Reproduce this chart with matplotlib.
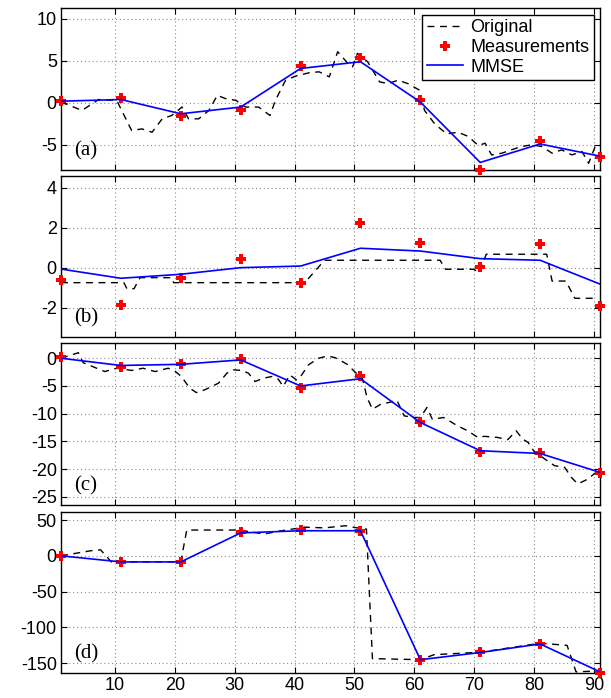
import matplotlib
matplotlib.use("Agg")
import matplotlib.pyplot as plt
import numpy as np

plt.rcParams['font.family'] = ['Liberation Sans', 'DejaVu Sans']
plt.rcParams['axes.unicode_minus'] = False

# ---------------- data ----------------
meas_x = [1, 11, 21, 31, 41, 51, 61, 71, 81, 91]
xticks = [10, 20, 30, 40, 50, 60, 70, 80, 90]

# panel (a)
orig_x_a = [1, 4.5, 7.3, 10.3, 12.8, 14.5, 16.2, 17.9, 19.5, 21.2, 22.3, 24, 25.7, 27.1, 28.5,
            30.2, 31.8, 34, 35.9, 36.8, 38.5, 40.2, 42.5, 44.1, 45.8, 47.2, 48.9, 49.7, 50.5,
            52.2, 54.2, 55.6, 57.3, 58.9, 60.9, 61.7, 63.4, 65.4, 67.3, 69, 70.7, 71.8, 72.9,
            74.6, 76.2, 77.9, 79.6, 81.3, 83, 84.6, 86.3, 88, 89.1, 90.2, 91]
orig_y_a = [0.1, -0.9, 0.4, 0.3, -3.3, -3.1, -3.5, -1.9, -1.5, -0.5, -1.9, -1.9, -0.9, 0.9, 0.5,
            0.3, -0.5, -0.5, -1.5, 0.3, 2.7, 3.2, 3.6, 3.7, 3.1, 6.1, 4.7, 4.3, 5.9,
            4.9, 2.5, 2.3, 2.7, 2.3, 1.5, -0.9, -2.5, -3.7, -3.5, -4.0, -5.1, -4.8, -6.2,
            -6.0, -5.6, -5.2, -5.0, -5.2, -6.0, -5.6, -6.2, -5.8, -7.2, -5.2, -5.0]
meas_a = [0.2, 0.6, -1.6, -0.8, 4.4, 5.4, 0.4, -8.0, -4.5, -6.5]
mmse_a = [0.2, 0.4, -1.3, -0.5, 4.1, 4.9, 0.1, -7.1, -4.9, -6.35]

# panel (b)
orig_x_b = [1, 11.5, 12.0, 13.2, 14.2, 14.8, 19.5, 19.8, 41.7, 45, 64.3, 65.2, 69.9, 70.9, 72,
            82.1, 83, 85.3, 86.8, 90.4]
orig_y_b = [-0.75, -0.75, -1.05, -1.05, -0.5, -0.5, -0.5, -0.75, -0.75, 0.37, 0.37, -0.08, -0.08,
            -0.25, 0.67, 0.67, -0.67, -0.67, -1.53, -1.53]
meas_b = [-0.6, -1.85, -0.5, 0.45, -0.75, 2.22, 1.25, 0.05, 1.2, -1.9]
mmse_b = [-0.07, -0.53, -0.33, 0.0, 0.08, 0.97, 0.83, 0.45, 0.37, -0.82]

# panel (c)
orig_x_c = [1, 3.9, 4.7, 8.3, 10.3, 12.8, 14.7, 16.7, 18.9, 20, 21.1, 22.5, 23.6, 25, 27.3, 28.7,
            29.8, 31.2, 32.3, 33.4, 34.8, 36.2, 37.3, 38.1, 39.2, 40.3, 41.2, 42.3, 44, 45.5,
            46.8, 48.8, 50.2, 51.3, 52.1, 53, 54.4, 55.7, 57.1, 58.3, 59.9, 61, 62.1, 63, 64.9,
            67.2, 68.9, 70.6, 71.7, 73.9, 75.6, 77, 78.1, 79, 80.1, 81.4, 83.4, 85.1, 86.2,
            87.3, 89, 90.1, 91]
orig_y_c = [0, 1.0, -0.8, -2.4, -1.8, -2.2, -1.8, -2.4, -1.8, -2.3, -3.3, -5.4, -6.2, -5.7, -4.5,
            -2.7, -2.1, -2.2, -2.7, -4.2, -3.6, -3.3, -3.8, -5.1, -3.0, -3.9, -3.0, -1.2, 0.0,
            0.4, 0.1, -1.1, -2.6, -3.5, -7.1, -9.2, -8.3, -8.0, -7.6, -10.4, -10.7, -10.7, -8.9,
            -11.0, -10.7, -12.2, -13.1, -14.3, -14.1, -14.3, -14.7, -13.1, -14.6, -15.2, -17.0,
            -17.9, -19.4, -19.7, -21.5, -22.7, -21.8, -20.8, -20.5]
meas_c = [0.2, -1.5, -1.0, -0.1, -5.4, -3.2, -11.5, -16.9, -17.1, -20.8]
mmse_c = [0.0, -1.3, -1.1, -0.3, -5.0, -3.7, -11.6, -16.7, -17.2, -20.6]

# panel (d)
orig_x_d = [1, 5.9, 7.6, 9.4, 21, 22, 30.7, 34.9, 37.8, 41.7, 45, 48.5, 51.5, 52, 53, 61, 63.3,
            71, 81, 85.5, 87, 90, 91]
orig_y_d = [0, 7, 8.4, -8.4, -8.4, 36, 36, 30.4, 35, 40, 39, 42, 37.4, 37.4, -143.5, -145, -138,
            -134.6, -122, -125, -162, -161, -164]
meas_d = [0, -8.4, -8.4, 32.7, 35.5, 35, -145, -134, -123, -164]
mmse_d = [0, -8.5, -8.5, 32, 35, 35, -145, -135, -123, -162]

panels = [
    ("(a)", orig_x_a, orig_y_a, meas_a, mmse_a, (-8, 11.27), [-5, 0, 5, 10]),
    ("(b)", orig_x_b, orig_y_b, meas_b, mmse_b, (-3.45, 4.58), [-2, 0, 2, 4]),
    ("(c)", orig_x_c, orig_y_c, meas_c, mmse_c, (-26.5, 2.7), [-25, -20, -15, -10, -5, 0]),
    ("(d)", orig_x_d, orig_y_d, meas_d, mmse_d, (-164, 61.6), [-150, -100, -50, 0, 50]),
]

# ---------------- layout ----------------
W, H = 611, 698
fig = plt.figure(figsize=(W / 100, H / 100), dpi=100)
left_px, right_px = 61, 600
boxes = [(8.3, 170), (176, 336.7), (343.3, 505), (511.7, 673.3)]

for i, ((lab, ox, oy, ms, mm, ylim, yt), (t, b)) in enumerate(zip(panels, boxes)):
    ax = fig.add_axes([left_px / W, 1 - b / H, (right_px - left_px) / W, (b - t) / H])
    ax.plot(ox, oy, color='black', lw=1.0, ls=(0, (5, 4)), label='Original', zorder=2)
    ax.plot(meas_x, ms, ls='none', marker='P', color='red', markersize=6.5,
            markeredgewidth=0, label='Measurements', clip_on=False, zorder=3)
    ax.plot(meas_x, mm, color='blue', lw=1.2, label='MMSE', zorder=4)
    ax.set_xlim(1, 91)
    ax.set_ylim(*ylim)
    ax.set_xticks(xticks)
    ax.set_yticks(yt)
    ax.grid(True, color='0.55', ls=(0, (1, 2.5)), lw=0.8)
    ax.set_axisbelow(True)
    ax.tick_params(direction='in', top=True, right=True, length=4, width=0.8,
                   labelsize=13, pad=3)
    if i < 3:
        ax.set_xticklabels([])
    for s in ax.spines.values():
        s.set_linewidth(1.0)
    ax.text(0.025, 0.06, lab, transform=ax.transAxes, fontsize=15,
            family=['Liberation Serif', 'DejaVu Serif'], ha='left', va='bottom')
    if i == 0:
        leg = ax.legend(loc='upper right', fontsize=13, frameon=True, fancybox=False,
                        edgecolor='black', framealpha=1, handlelength=2.0, handletextpad=0.4,
                        borderpad=0.25, labelspacing=0.15, borderaxespad=0.35, numpoints=1)
        leg.get_frame().set_linewidth(1.0)

fig.savefig('out.png', dpi=100)
